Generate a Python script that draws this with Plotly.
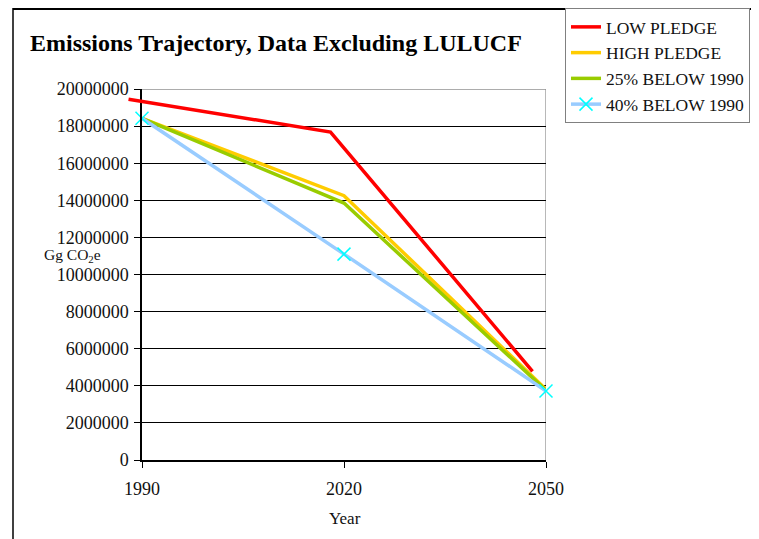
import plotly.graph_objects as go

# ---- data ----
years = [1990, 2020, 2050]
low_years = [1988, 2018, 2048]          # low-pledge series is drawn slightly offset in the source
low_pledge = [19450000, 17680000, 4780000]
high_pledge = [18420000, 14250000, 3800000]
below25 = [18420000, 13850000, 3750000]
below40 = [18420000, 11100000, 3720000]
y_ticks = list(range(0, 20000001, 2000000))
title_text = "Emissions Trajectory, Data Excluding LULUCF"

OFF = 8  # page body margin in the browser
W, H = 759 - OFF, 539 - OFF
# plot area (image pixels): x 120..546 (incl. left extension), y 89..460
ML = 120 - OFF
MT = 89 - OFF
MR = W - (546 - OFF)
MB = H - (460 - OFF)
PW = W - ML - MR
PH = H - MT - MB

def px(xi):
    return (xi - OFF - ML) / PW

def py(yi):
    return (H - MB - (yi - OFF)) / PH

FONT = "Liberation Serif"

fig = go.Figure()
fig.add_trace(go.Scatter(x=low_years, y=low_pledge, name="LOW PLEDGE", mode="lines",
                         line=dict(color="#FF0000", width=3.5), xaxis="x2", yaxis="y2"))
fig.add_trace(go.Scatter(x=years, y=high_pledge, name="HIGH PLEDGE", mode="lines",
                         line=dict(color="#FFCC00", width=3.5)))
fig.add_trace(go.Scatter(x=years, y=below25, name="25% BELOW 1990", mode="lines",
                         line=dict(color="#99CC00", width=3.5)))
fig.add_trace(go.Scatter(x=years, y=below40, name="40% BELOW 1990", mode="lines+markers",
                         line=dict(color="#99CCFF", width=3.5),
                         marker=dict(symbol="x-thin", size=13, color="#00FFFF",
                                     line=dict(color="#00FFFF", width=1.5)),
                         cliponaxis=False))

x0_dom = (142 - 120) / PW
ppy = (546 - 142) / 60.0
fig.update_layout(
    width=W, height=H,
    margin=dict(l=ML, r=MR, t=MT, b=MB, pad=0, autoexpand=False),
    paper_bgcolor="white", plot_bgcolor="rgba(0,0,0,0)",
    font=dict(family=FONT, size=18, color="#111"),
    showlegend=True,
    legend=dict(x=px(565), y=py(8), xanchor="left", yanchor="top",
                bordercolor="#808080", borderwidth=1, bgcolor="white",
                font=dict(family=FONT, size=17.5, color="#111"),
                tracegroupgap=0),
    xaxis=dict(domain=[x0_dom, 1], range=[1990, 2050], tickvals=years,
               ticktext=[str(y) for y in years],
               showgrid=False, zeroline=False, showline=True, linecolor="black", linewidth=1.5,
               ticks="outside", ticklen=6, tickcolor="black", tickwidth=1.2,
               ticklabelstandoff=6,
               tickfont=dict(family=FONT, size=18, color="#111")),
    yaxis=dict(range=[0, 20000000], tickvals=y_ticks, tickformat="d",
               showgrid=True, gridcolor="black", gridwidth=1, zeroline=False,
               showline=True, linecolor="black", linewidth=1.5,
               ticks="outside", ticklen=6, tickcolor="black", tickwidth=1.2,
               ticklabelstandoff=2,
               tickfont=dict(family=FONT, size=18, color="#111")),
    xaxis2=dict(domain=[0, 1], range=[1990 - (142 - 120) / ppy, 2050], visible=False,
                anchor="y2"),
    yaxis2=dict(domain=[0, 1], range=[0, 20000000], visible=False, anchor="x2"),
)

# chart frame (outer border) and plot-area frame
fig.add_shape(type="line", xref="paper", yref="paper", x0=px(13), x1=px(13), y0=py(8), y1=py(560),
              line=dict(color="black", width=1.5))
fig.add_shape(type="line", xref="paper", yref="paper", x0=px(13), x1=px(770), y0=py(9), y1=py(9),
              line=dict(color="black", width=2))
fig.add_shape(type="line", xref="x", yref="y", x0=2050, x1=2050, y0=0, y1=20000000,
              line=dict(color="#A0A0A0", width=1.5), layer="below")
fig.add_shape(type="line", xref="x", yref="y", x0=1990, x1=2050, y0=20000000, y1=20000000,
              line=dict(color="#909090", width=1.5), layer="below")

fig.add_annotation(text="<b>" + title_text + "</b>", xref="paper", yref="paper",
                   x=px(28), y=py(43), xanchor="left", yanchor="middle", showarrow=False,
                   font=dict(family=FONT, size=24, color="black"))
fig.add_annotation(text="Gg CO<sub>2</sub>e", xref="paper", yref="paper",
                   x=px(103), y=py(255), xanchor="right", yanchor="middle", showarrow=False,
                   font=dict(family=FONT, size=15.5, color="#111"))
fig.add_annotation(text="Year", xref="paper", yref="paper",
                   x=px(345), y=py(518), xanchor="center", yanchor="middle", showarrow=False,
                   font=dict(family=FONT, size=17, color="#111"))

fig.write_html("out.html")
